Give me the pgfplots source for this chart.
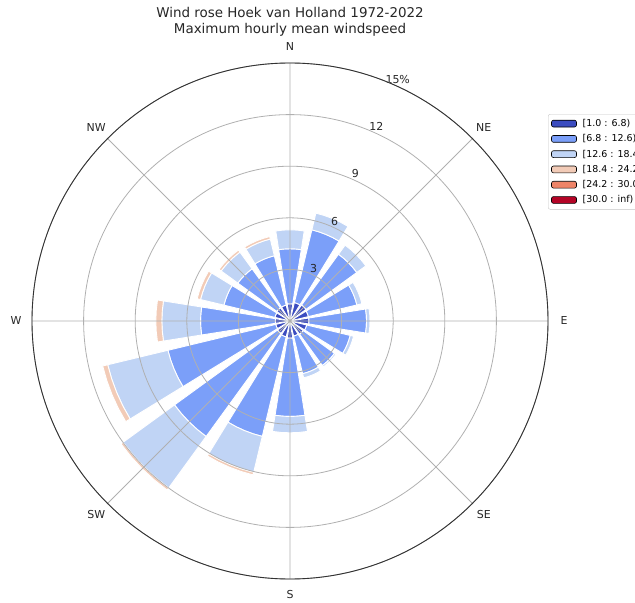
\documentclass[border=0pt]{standalone}
\usepackage{fontspec}
\setmainfont{DejaVu Sans}
\usepackage{pgfplots}
\pgfplotsset{compat=1.18}
\usepgfplotslibrary{polar}

\definecolor{c1}{RGB}{59,76,192}
\definecolor{c2}{RGB}{123,159,249}
\definecolor{c3}{RGB}{192,212,245}
\definecolor{c4}{RGB}{242,203,183}
\definecolor{c5}{RGB}{238,132,104}
\definecolor{c6}{RGB}{180,4,38}
\definecolor{gridgray}{RGB}{176,176,176}

% one bar segment: bearing (deg, clockwise from N), inner radius, outer radius, colour
\newcommand\wedgeplot[4]{%
  \pgfmathsetmacro\aA{90-#1-9}%
  \pgfmathsetmacro\aB{90-#1-4.5}%
  \pgfmathsetmacro\aC{90-#1}%
  \pgfmathsetmacro\aD{90-#1+4.5}%
  \pgfmathsetmacro\aE{90-#1+9}%
  \edef\next{\noexpand\addplot[draw=white,line width=0.9bp,fill=#4,forget plot] coordinates {(\aA,#2) (\aA,#3) (\aB,#3) (\aC,#3) (\aD,#3) (\aE,#3) (\aE,#2) (\aD,#2) (\aC,#2) (\aB,#2)} --cycle;}%
  \next
}
\tikzset{dirlab/.style={font=\fontsize{11}{13}\selectfont,text=black!85}}

\begin{document}
\begin{tikzpicture}
\path[use as bounding box] (0,0) rectangle (635bp,603bp);
\node[align=center,font=\fontsize{13.5}{16}\selectfont,text=black!85] at (290bp,581bp)
  {Wind rose Hoek van Holland 1972-2022\\Maximum hourly mean windspeed};
\begin{polaraxis}[
  at={(290bp,282bp)}, anchor=center,
  scale only axis, width=516bp, height=516bp,
  xmin=0, xmax=360, ymin=0, ymax=15,
  xtick={0,45,...,315}, xticklabels={},
  ytick={3,6,9,12,15}, yticklabels={},
  grid=major,
  major grid style={draw=gridgray,line width=0.8bp},
  axis line style={draw=black!80,line width=0.9bp},
  y axis line style={draw=none},
  tick style={draw=none},
  axis on top,
  clip=false,
  legend style={at={(1,0.901)}, anchor=north west, draw=gray!45, rounded corners=2bp,
    font=\fontsize{9.5}{11}\selectfont, inner xsep=3bp, inner ysep=3bp, row sep=2.6bp,
    cells={anchor=west}},
  legend image code/.code={\draw[#1,draw=black,line width=0.6bp] (0bp,-3.4bp) rectangle (25bp,3.4bp);\path (29bp,0bp);},
]
% N
\wedgeplot{0}{0}{1.0}{c1}
\wedgeplot{0}{1.0}{4.2}{c2}
\wedgeplot{0}{4.2}{5.3}{c3}
% NNE
\wedgeplot{22.5}{0}{1.1}{c1}
\wedgeplot{22.5}{1.1}{5.45}{c2}
\wedgeplot{22.5}{5.45}{6.45}{c3}
% NE
\wedgeplot{45}{0}{1.15}{c1}
\wedgeplot{45}{1.15}{4.8}{c2}
\wedgeplot{45}{4.8}{5.45}{c3}
% ENE
\wedgeplot{67.5}{0}{1.1}{c1}
\wedgeplot{67.5}{1.1}{4.0}{c2}
\wedgeplot{67.5}{4.0}{4.3}{c3}
% E
\wedgeplot{90}{0}{1.1}{c1}
\wedgeplot{90}{1.1}{4.45}{c2}
\wedgeplot{90}{4.45}{4.65}{c3}
% ESE
\wedgeplot{112.5}{0}{1.0}{c1}
\wedgeplot{112.5}{1.0}{3.6}{c2}
\wedgeplot{112.5}{3.6}{3.8}{c3}
% SE
\wedgeplot{135}{0}{0.95}{c1}
\wedgeplot{135}{0.95}{3.2}{c2}
\wedgeplot{135}{3.2}{3.3}{c3}
% SSE
\wedgeplot{157.5}{0}{0.9}{c1}
\wedgeplot{157.5}{0.9}{3.15}{c2}
\wedgeplot{157.5}{3.15}{3.4}{c3}
% S
\wedgeplot{180}{0}{1.0}{c1}
\wedgeplot{180}{1.0}{5.55}{c2}
\wedgeplot{180}{5.55}{6.5}{c3}
% SSW
\wedgeplot{202.5}{0}{0.95}{c1}
\wedgeplot{202.5}{0.95}{6.9}{c2}
\wedgeplot{202.5}{6.9}{9.05}{c3}
\wedgeplot{202.5}{9.05}{9.2}{c4}
% SW
\wedgeplot{225}{0}{0.9}{c1}
\wedgeplot{225}{0.9}{8.3}{c2}
\wedgeplot{225}{8.3}{12.0}{c3}
\wedgeplot{225}{12.0}{12.15}{c4}
% WSW
\wedgeplot{247.5}{0}{0.85}{c1}
\wedgeplot{247.5}{0.85}{7.3}{c2}
\wedgeplot{247.5}{7.3}{10.9}{c3}
\wedgeplot{247.5}{10.9}{11.2}{c4}
% W
\wedgeplot{270}{0}{0.85}{c1}
\wedgeplot{270}{0.85}{5.2}{c2}
\wedgeplot{270}{5.2}{7.45}{c3}
\wedgeplot{270}{7.45}{7.8}{c4}
% WNW
\wedgeplot{292.5}{0}{0.9}{c1}
\wedgeplot{292.5}{0.9}{3.95}{c2}
\wedgeplot{292.5}{3.95}{5.35}{c3}
\wedgeplot{292.5}{5.35}{5.55}{c4}
% NW
\wedgeplot{315}{0}{0.95}{c1}
\wedgeplot{315}{0.95}{3.75}{c2}
\wedgeplot{315}{3.75}{4.95}{c3}
\wedgeplot{315}{4.95}{5.1}{c4}
% NNW
\wedgeplot{337.5}{0}{0.95}{c1}
\wedgeplot{337.5}{0.95}{3.9}{c2}
\wedgeplot{337.5}{3.9}{4.9}{c3}
\wedgeplot{337.5}{4.9}{5.05}{c4}

\addlegendimage{fill=c1}\addlegendentry{{[}1.0 : 6.8)}
\addlegendimage{fill=c2}\addlegendentry{{[}6.8 : 12.6)}
\addlegendimage{fill=c3}\addlegendentry{{[}12.6 : 18.4)}
\addlegendimage{fill=c4}\addlegendentry{{[}18.4 : 24.2)}
\addlegendimage{fill=c5}\addlegendentry{{[}24.2 : 30.0)}
\addlegendimage{fill=c6}\addlegendentry{{[}30.0 : inf)}

% direction labels
\node[dirlab] at (axis cs:0,15.93) {E};
\node[dirlab] at (axis cs:45,15.93) {NE};
\node[dirlab] at (axis cs:90,15.93) {N};
\node[dirlab] at (axis cs:135,15.93) {NW};
\node[dirlab] at (axis cs:180,15.93) {W};
\node[dirlab] at (axis cs:225,15.93) {SW};
\node[dirlab] at (axis cs:270,15.93) {S};
\node[dirlab] at (axis cs:315,15.93) {SE};
% radial labels
\node[dirlab] at (axis cs:66,3.36) {3};
\node[dirlab] at (axis cs:66,6.36) {6};
\node[dirlab] at (axis cs:66,9.36) {9};
\node[dirlab] at (axis cs:66,12.36) {12};
\node[dirlab] at (axis cs:66,15.4) {15\%};
\end{polaraxis}
\end{tikzpicture}
\end{document}
